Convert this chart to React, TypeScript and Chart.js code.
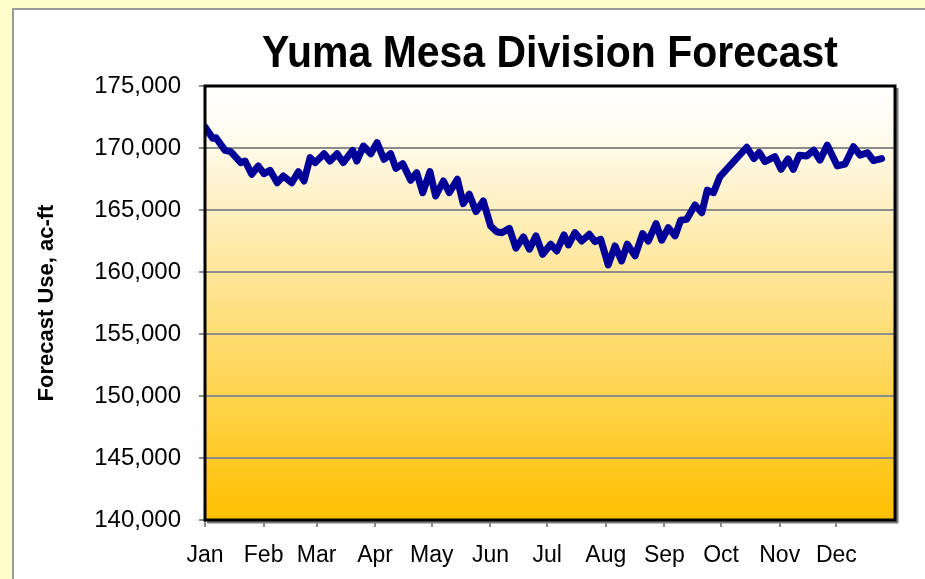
import React, { useEffect, useRef } from "react";
import { Chart, registerables } from "chart.js";

Chart.register(...registerables);

const TITLE = "Yuma Mesa Division Forecast";
const Y_TITLE = "Forecast Use, ac-ft";

const monthLabels = ["Jan", "Feb", "Mar", "Apr", "May", "Jun", "Jul", "Aug", "Sep", "Oct", "Nov", "Dec"];
const monthStartDays = [0, 31, 59, 90, 120, 151, 181, 212, 243, 273, 304, 334];

const yMin = 140000;
const yMax = 175000;
const yStep = 5000;

// day of year (0 = Jan 1) for each forecast point
const dayOfYear = [
  0, 4.1, 5.8, 10.6, 13.6, 18.9, 21.2, 24.7, 28.2, 31.2,
  34.4, 38.2, 41.4, 45.9, 49.4, 52.4, 55.6, 58.2, 63.0, 66.1,
  69.9, 73.1, 78.1, 80.3, 83.8, 87.7, 91.0, 94.7, 98.2, 101.0,
  104.6, 108.8, 112.0, 115.2, 119.0, 122.0, 126.1, 129.2, 133.5, 136.6,
  139.8, 143.4, 147.2, 151.1, 154.3, 157.0, 161.0, 164.5, 168.4, 171.6,
  175.1, 178.6, 182.9, 186.1, 189.9, 192.2, 195.7, 199.3, 203.3, 206.3,
  209.3, 213.3, 216.9, 220.4, 223.4, 227.5, 231.5, 234.5, 238.6, 241.6,
  245.1, 248.7, 251.6, 254.8, 259.2, 262.8, 265.7, 269.0, 272.4, 286.6,
  290.4, 293.2, 296.2, 301.5, 304.7, 308.4, 311.2, 314.4, 318.3, 322.0,
  325.3, 329.2, 334.5, 338.6, 343.0, 346.5, 350.4, 353.6, 357.9,
];

// forecast use, ac-ft
const forecastUse = [
  171700, 170780, 170830, 169810, 169700, 168820, 168950, 167880, 168550, 167930,
  168200, 167200, 167740, 167200, 168090, 167340, 169220, 168820, 169540, 168950,
  169540, 168820, 169810, 168950, 170160, 169540, 170430, 169090, 169540, 168360,
  168740, 167400, 168010, 166400, 168090, 166130, 167340, 166400, 167480, 165510,
  166270, 164870, 165730, 163710, 163250, 163170, 163520, 161920, 162830, 161840,
  162910, 161430, 162240, 161700, 162990, 162180, 163170, 162500, 163040, 162450,
  162640, 160570, 162100, 160890, 162240, 161300, 163090, 162500, 163900, 162560,
  163580, 162910, 164170, 164250, 165400, 164780, 166600, 166400, 167700, 170060,
  169150, 169650, 168900, 169300, 168280, 169120, 168280, 169420, 169350, 169820,
  169020, 170230, 168550, 168710, 170100, 169420, 169620, 168980, 169150,
];

const FONT = "'Liberation Sans', Arial, sans-serif";

const plotDecor = {
  id: "plotDecor",
  beforeDraw(chart: any) {
    const { ctx, chartArea: a } = chart;
    const g = ctx.createLinearGradient(0, a.top, 0, a.bottom);
    g.addColorStop(0, "#FFFFFF");
    g.addColorStop(0.1, "#FFFCF2");
    g.addColorStop(1, "#FFC000");
    ctx.save();
    ctx.fillStyle = g;
    ctx.fillRect(a.left, a.top, a.right - a.left, a.bottom - a.top);
    ctx.restore();
  },
  afterDatasetsDraw(chart: any) {
    const { ctx, chartArea: a } = chart;
    ctx.save();
    // shadow
    ctx.strokeStyle = "#7a7a7a";
    ctx.lineWidth = 3;
    ctx.beginPath();
    ctx.moveTo(a.left + 2, a.bottom + 2);
    ctx.lineTo(a.right + 2, a.bottom + 2);
    ctx.lineTo(a.right + 2, a.top + 2);
    ctx.stroke();
    // border
    ctx.strokeStyle = "#000000";
    ctx.lineWidth = 3;
    ctx.strokeRect(a.left, a.top, a.right - a.left, a.bottom - a.top);
    ctx.restore();
  },
  afterDraw(chart: any) {
    const { ctx, chartArea: a } = chart;
    ctx.save();
    ctx.fillStyle = "#000";
    ctx.font = `bold 44px ${FONT}`;
    ctx.textAlign = "center";
    ctx.textBaseline = "alphabetic";
    ctx.fillText(TITLE, (a.left + a.right) / 2, 67, 576);
    ctx.restore();
  },
};

export default function App() {
  const ref = useRef<HTMLCanvasElement | null>(null);

  useEffect(() => {
    if (!ref.current) return;
    const chart = new Chart(ref.current, {
      type: "line",
      data: {
        datasets: [
          {
            data: dayOfYear.map((d, i) => ({ x: d, y: forecastUse[i] })),
            borderColor: "#000099",
            borderWidth: 7,
            pointRadius: 0,
            tension: 0,
            borderJoinStyle: "round",
            borderCapStyle: "round",
            fill: false,
          },
        ],
      },
      options: {
        animation: false,
        responsive: false,
        layout: { padding: { top: 86, right: 30, left: 0, bottom: 0 } },
        plugins: {
          legend: { display: false },
          tooltip: { enabled: false },
          title: { display: false },
        },
        scales: {
          x: {
            type: "linear",
            min: 0,
            max: 365,
            afterBuildTicks: (s: any) => {
              s.ticks = monthStartDays.map((v) => ({ value: v }));
            },
            afterFit: (s: any) => {
              s.height = 59;
            },
            ticks: {
              autoSkip: false,
              maxRotation: 0,
              minRotation: 0,
              padding: 15,
              color: "#000",
              font: { family: FONT, size: 23 },
              callback: (_v: any, i: number) => monthLabels[i],
            },
            grid: {
              drawOnChartArea: false,
              drawTicks: true,
              tickLength: 7,
              color: "#8c8c8c",
              lineWidth: 2,
            },
            border: { display: false },
          },
          y: {
            min: yMin,
            max: yMax,
            afterFit: (s: any) => {
              s.width = 205;
            },
            ticks: {
              stepSize: yStep,
              padding: 18,
              color: "#000",
              font: { family: FONT, size: 24 },
              callback: (v: any) => Number(v).toLocaleString("en-US"),
            },
            grid: {
              color: "#8c8c8c",
              lineWidth: 2,
              drawTicks: true,
              tickLength: 6,
            },
            border: { display: false },
            title: {
              display: true,
              text: Y_TITLE,
              color: "#000",
              font: { family: FONT, size: 22, weight: "bold" },
              padding: { top: 34, bottom: 0 },
            },
          },
        },
      },
      plugins: [plotDecor],
    });
    return () => chart.destroy();
  }, []);

  return (
    <div style={{ position: "fixed", left: 0, top: 0, right: 0, bottom: 0, background: "#FFFFCC", overflow: "hidden" }}>
      <div
        style={{
          position: "absolute",
          left: 12,
          top: 8,
          width: 1000,
          height: 700,
          background: "#FFFFFF",
          borderLeft: "2px solid #9a9a9a",
          borderTop: "2px solid #9a9a9a",
        }}
      />
      <canvas ref={ref} width={925} height={579} style={{ position: "absolute", left: 0, top: 0 }} />
    </div>
  );
}
